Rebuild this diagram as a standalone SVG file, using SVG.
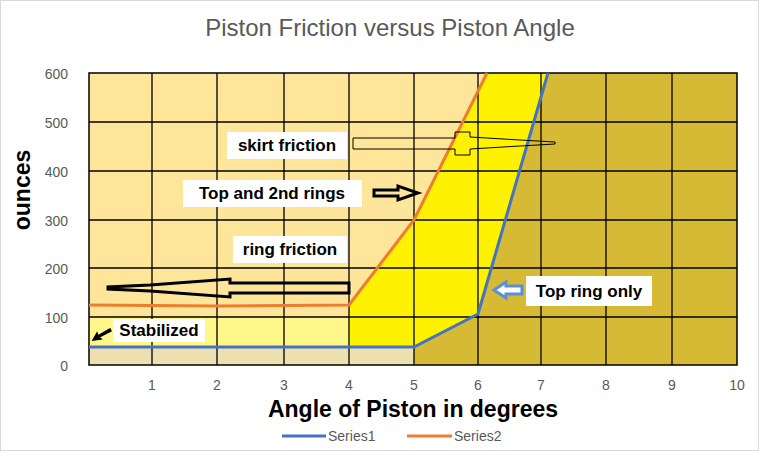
<svg xmlns="http://www.w3.org/2000/svg" width="760" height="452" viewBox="0 0 760 452">
<style>
text{font-family:"Liberation Sans",Arial,sans-serif}
.t{fill:#595959;font-size:14px}
.lb{font-weight:bold;font-size:17px;fill:#000}
.box{fill:#fff}
.g{stroke:#000;stroke-width:1.3;fill:none}
</style>
<rect x="0.5" y="0.5" width="758" height="450" fill="#fff" stroke="#d9d9d9"/>
<text x="390" y="36" text-anchor="middle" style="font-size:24px;fill:#595959">Piston Friction versus Piston Angle</text>
<g id="plot">
<rect x="89" y="73" width="648" height="292" fill="#fde59a"/>
<rect x="89" y="317" width="260" height="30" fill="#fff78a"/>
<rect x="89" y="347" width="325" height="18" fill="#ece0b0"/>
<polygon points="349,305 414,220 487,73 548,73 478,314 414,347 349,347" fill="#fff200"/>
<polygon points="548,73 737,73 737,365 414,365 414,347 478,314" fill="#d6b935"/>
<path class="g" d="M152,73V365M217,73V365M284,73V365M349,73V365M414,73V365M478,73V365M541,73V365M606,73V365M672,73V365M89,122H737M89,171H737M89,220H737M89,268H737M89,317H737"/>
<rect x="89" y="73" width="648" height="292" fill="none" stroke="#000" stroke-width="1.5"/>
</g>
<g id="connectors">
<polyline points="89,305 217,306 349,305 414,220 487,73" fill="none" stroke="#ed7d31" stroke-width="3"/>
<polyline points="89,347 414,347 478,314 548,73" fill="none" stroke="#4472c4" stroke-width="3"/>
<polygon points="353,138 455,138 455,132 470,132 470,137 520,140 555,142 555,144 520,146 470,149 470,155 455,155 455,149 353,149" fill="none" stroke="#000" stroke-width="1"/>
<polygon points="374,190 398,190 398,186 418,193 398,200 398,196 374,196" fill="none" stroke="#000" stroke-width="3"/>
<polygon points="349,283 230,283 230,279 150,285 108,287 108,289 150,291 230,297 230,293 349,293" fill="none" stroke="#000" stroke-width="3"/>
<polygon points="110,329 98,336 97,333 93,340 101,339 99,337 111,331" fill="#000" stroke="#000" stroke-width="1.5"/>
<polygon points="522,286 506,286 506,282 494,290 506,298 506,294 522,294" fill="#fff" stroke="#5b8fd8" stroke-width="3"/>
</g>
<g id="labels">
<rect class="box" x="227" y="132" width="120" height="27"/><text class="lb" x="287" y="151" text-anchor="middle">skirt friction</text>
<rect class="box" x="183" y="180" width="179" height="27"/><text class="lb" x="272" y="199" text-anchor="middle">Top and 2nd rings</text>
<rect class="box" x="233" y="236" width="114" height="27"/><text class="lb" x="290" y="255" text-anchor="middle">ring friction</text>
<rect class="box" x="113" y="319" width="92" height="23"/><text class="lb" x="159" y="336" text-anchor="middle">Stabilized</text>
<rect class="box" x="526" y="276" width="126" height="30"/><text class="lb" x="589" y="297" text-anchor="middle">Top ring only</text>
</g>
<g id="axes">
<g class="t" text-anchor="end">
<text x="68" y="79">600</text><text x="68" y="128">500</text><text x="68" y="177">400</text><text x="68" y="226">300</text><text x="68" y="274">200</text><text x="68" y="323">100</text><text x="68" y="371">0</text>
</g>
<g class="t" text-anchor="middle">
<text x="152" y="390">1</text><text x="217" y="390">2</text><text x="284" y="390">3</text><text x="349" y="390">4</text><text x="414" y="390">5</text><text x="478" y="390">6</text><text x="541" y="390">7</text><text x="606" y="390">8</text><text x="672" y="390">9</text><text x="737" y="390">10</text>
</g>
<text x="413" y="417" text-anchor="middle" style="font-size:23px;font-weight:bold">Angle of Piston in degrees</text>
<text transform="translate(30,190) rotate(-90)" text-anchor="middle" style="font-size:23px;font-weight:bold">ounces</text>
</g>
<g id="legend">
<line x1="282" y1="436" x2="326" y2="436" stroke="#4472c4" stroke-width="3"/><text class="t" x="328" y="441">Series1</text>
<line x1="407" y1="436" x2="452" y2="436" stroke="#ed7d31" stroke-width="3"/><text class="t" x="454" y="441">Series2</text>
</g>
</svg>
